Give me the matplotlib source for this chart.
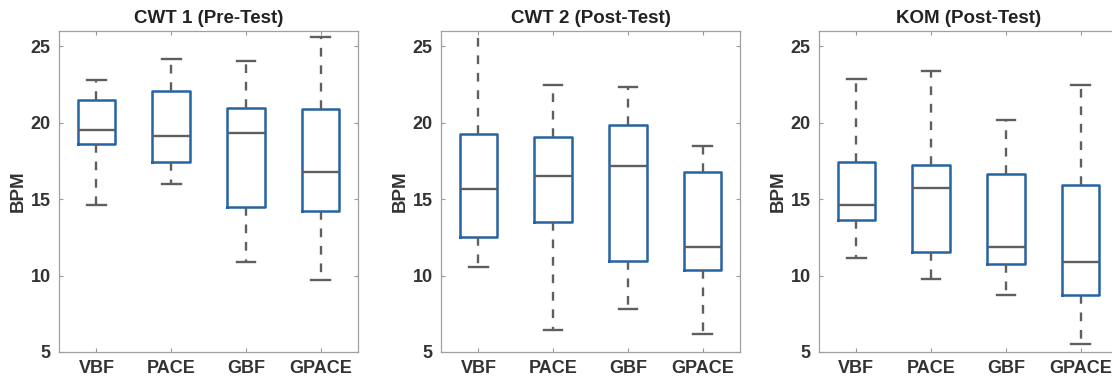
import matplotlib.pyplot as plt

plt.rcParams['font.family'] = ['Liberation Sans', 'DejaVu Sans']

groups = ["VBF", "PACE", "GBF", "GPACE"]
titles = ["CWT 1 (Pre-Test)", "CWT 2 (Post-Test)", "KOM (Post-Test)"]

# per panel: lower whisker, Q1, median, Q3, upper whisker for each group
cwt1_low = [14.6, 16.0, 10.9, 9.7]
cwt1_q1 = [18.6, 17.4, 14.5, 14.2]
cwt1_med = [19.5, 19.1, 19.3, 16.8]
cwt1_q3 = [21.5, 22.1, 20.95, 20.9]
cwt1_high = [22.8, 24.15, 24.05, 25.6]

cwt2_low = [10.55, 6.45, 7.8, 6.15]
cwt2_q1 = [12.5, 13.5, 10.95, 10.35]
cwt2_med = [15.65, 16.5, 17.15, 11.85]
cwt2_q3 = [19.25, 19.05, 19.85, 16.8]
cwt2_high = [27.0, 22.45, 22.35, 18.45]

kom_low = [11.15, 9.75, 8.75, 5.55]
kom_q1 = [13.65, 11.55, 10.75, 8.75]
kom_med = [14.6, 15.75, 11.9, 10.9]
kom_q3 = [17.4, 17.25, 16.65, 15.95]
kom_high = [22.85, 23.4, 20.2, 22.45]

panels = [
    (cwt1_low, cwt1_q1, cwt1_med, cwt1_q3, cwt1_high),
    (cwt2_low, cwt2_q1, cwt2_med, cwt2_q3, cwt2_high),
    (kom_low, kom_q1, kom_med, kom_q3, kom_high),
]

blue = "#2563a3"
gray = "#5f5f5f"
text_c = "#333333"

fig = plt.figure(figsize=(11.12, 3.83), dpi=100)
lefts = [0.0531, 0.3966, 0.7365]
for k, (left, title, data) in enumerate(zip(lefts, titles, panels)):
    ax = fig.add_axes([left, 0.081, 0.2689, 0.838])
    low, q1, med, q3, high = data
    stats = []
    for i in range(len(groups)):
        stats.append(dict(whislo=low[i], q1=q1[i], med=med[i], q3=q3[i],
                          whishi=high[i], fliers=[], label=groups[i]))
    ax.bxp(stats, positions=range(1, 5), widths=0.5, showfliers=False,
           boxprops=dict(color=blue, linewidth=1.8),
           medianprops=dict(color=gray, linewidth=1.7),
           whiskerprops=dict(color=gray, linewidth=1.7, linestyle=(0, (3.7, 3.7))),
           capprops=dict(color=gray, linewidth=1.7), capwidths=0.25)
    ax.set_xlim(0.5, 4.5)
    ax.set_ylim(5, 26)
    ax.set_yticks([5, 10, 15, 20, 25])
    ax.set_xticks(range(1, 5))
    ax.set_xticklabels(groups)
    ax.tick_params(direction="in", top=True, right=True, length=3,
                   width=0.8, color="#999999", labelcolor=text_c,
                   labelsize=13, pad=6)
    for lab in ax.get_xticklabels() + ax.get_yticklabels():
        lab.set_fontweight("bold")
    for sp in ax.spines.values():
        sp.set_color("#a0a0a0")
        sp.set_linewidth(0.9)
    ax.set_ylabel("BPM", fontsize=13.5, fontweight="bold", color=text_c, labelpad=3)
    ax.set_title(title, fontsize=13.5, fontweight="bold", color="#222222", pad=6)

fig.savefig("out.png", dpi=100)
